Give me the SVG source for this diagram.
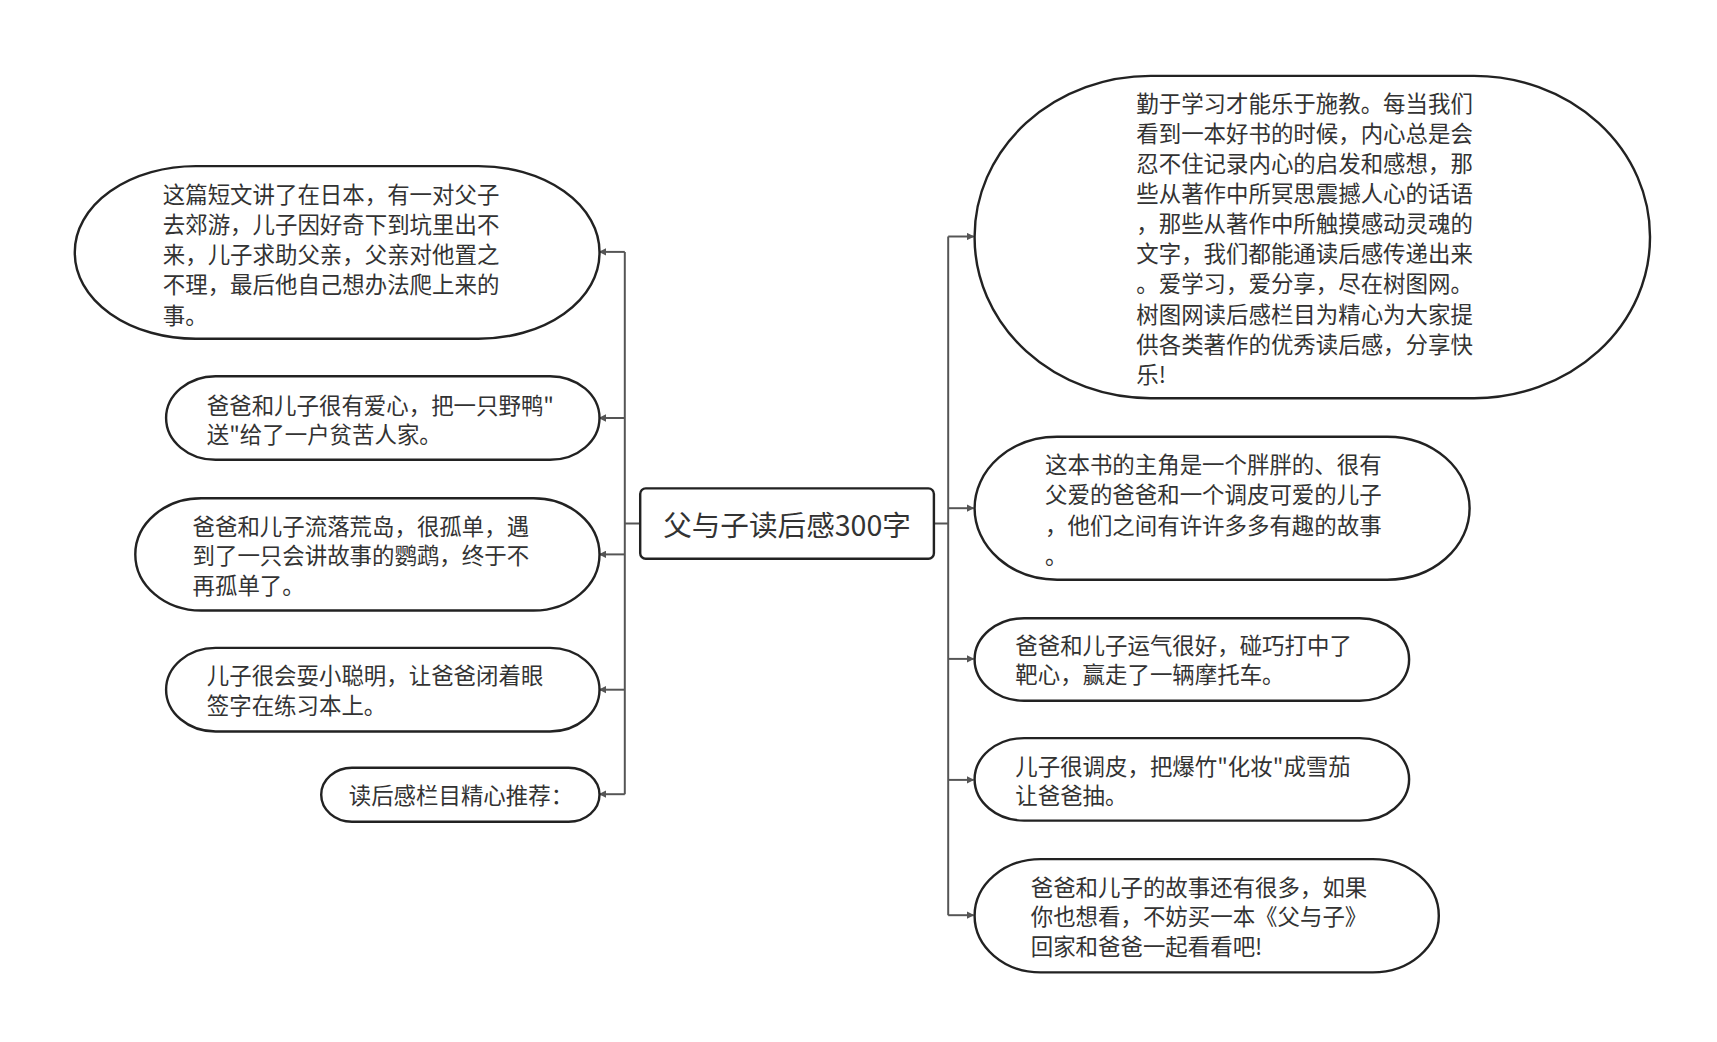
<svg xmlns="http://www.w3.org/2000/svg" width="1717" height="1042" viewBox="0 0 1717 1042">
<style>
.n{fill:#fff;stroke:#222;stroke-width:2.2}
.t{font-family:"Noto Sans CJK SC","Noto Sans",sans-serif;font-size:20.4px;fill:#333;dominant-baseline:central}
.c{fill:none;stroke:#555;stroke-width:1.8}
</style>
<defs><marker id="a" viewBox="0 0 10 10" refX="9" refY="5" markerWidth="7" markerHeight="7" orient="auto" markerUnits="userSpaceOnUse"><path d="M0,0L10,5L0,10z" fill="#555"/></marker></defs>
<rect width="1717" height="1042" fill="#fff"/>
<g transform="scale(1.1)">
<g id="connectors">
<path class="c" d="M582,476H568M568,229V722M849,476H862M862,215V832"/>
<path class="c" marker-end="url(#a)" d="M568,229H545"/>
<path class="c" marker-end="url(#a)" d="M568,380H545"/>
<path class="c" marker-end="url(#a)" d="M568,504H545"/>
<path class="c" marker-end="url(#a)" d="M568,627H545"/>
<path class="c" marker-end="url(#a)" d="M568,722H545"/>
<path class="c" marker-end="url(#a)" d="M862,215H885"/>
<path class="c" marker-end="url(#a)" d="M862,462H885"/>
<path class="c" marker-end="url(#a)" d="M862,599H885"/>
<path class="c" marker-end="url(#a)" d="M862,709H885"/>
<path class="c" marker-end="url(#a)" d="M862,832H885"/>
</g>
<g id="center"><rect class="n" x="582" y="444" width="267" height="64" rx="5"/><text class="t" x="715.5" y="476" text-anchor="middle" style="font-size:26px">父与子读后感300字</text></g>
<g id="l1"><rect class="n" x="68" y="151" width="477" height="157" rx="110" ry="78"/><text class="t" x="148"><tspan x="148" y="175">这篇短文讲了在日本，有一对父子</tspan><tspan x="148" y="202.5">去郊游，儿子因好奇下到坑里出不</tspan><tspan x="148" y="230">来，儿子求助父亲，父亲对他置之</tspan><tspan x="148" y="257.5">不理，最后他自己想办法爬上来的</tspan><tspan x="148" y="285">事。</tspan></text></g>
<g id="l2"><rect class="n" x="151" y="342" width="394" height="76" rx="45" ry="38"/><text class="t"><tspan x="188" y="367">爸爸和儿子很有爱心，把一只野鸭"</tspan><tspan x="188" y="394">送"给了一户贫苦人家。</tspan></text></g>
<g id="l3"><rect class="n" x="123" y="453" width="422" height="102" rx="60" ry="51"/><text class="t"><tspan x="175" y="477">爸爸和儿子流落荒岛，很孤单，遇</tspan><tspan x="175" y="504">到了一只会讲故事的鹦鹉，终于不</tspan><tspan x="175" y="531">再孤单了。</tspan></text></g>
<g id="l4"><rect class="n" x="151" y="589" width="394" height="76" rx="45" ry="38"/><text class="t"><tspan x="188" y="613">儿子很会耍小聪明，让爸爸闭着眼</tspan><tspan x="188" y="640">签字在练习本上。</tspan></text></g>
<g id="l5"><rect class="n" x="292" y="698" width="253" height="49" rx="28" ry="24.5"/><text class="t" x="317" y="722">读后感栏目精心推荐：</text></g>
<g id="r1"><rect class="n" x="886" y="69" width="614" height="293" rx="160" ry="146"/><text class="t"><tspan x="1033" y="93">勤于学习才能乐于施教。每当我们</tspan><tspan x="1033" y="120.3">看到一本好书的时候，内心总是会</tspan><tspan x="1033" y="147.6">忍不住记录内心的启发和感想，那</tspan><tspan x="1033" y="174.9">些从著作中所冥思震撼人心的话语</tspan><tspan x="1033" y="202.2">，那些从著作中所触摸感动灵魂的</tspan><tspan x="1033" y="229.5">文字，我们都能通读后感传递出来</tspan><tspan x="1033" y="256.8">。爱学习，爱分享，尽在树图网。</tspan><tspan x="1033" y="284.1">树图网读后感栏目为精心为大家提</tspan><tspan x="1033" y="311.4">供各类著作的优秀读后感，分享快</tspan><tspan x="1033" y="338.7">乐!</tspan></text></g>
<g id="r2"><rect class="n" x="886" y="397" width="450" height="130" rx="75" ry="65"/><text class="t"><tspan x="950" y="421">这本书的主角是一个胖胖的、很有</tspan><tspan x="950" y="448.5">父爱的爸爸和一个调皮可爱的儿子</tspan><tspan x="950" y="476">，他们之间有许许多多有趣的故事</tspan><tspan x="950" y="503.5">。</tspan></text></g>
<g id="r3"><rect class="n" x="886" y="562" width="395" height="75" rx="45" ry="37.5"/><text class="t"><tspan x="923" y="585">爸爸和儿子运气很好，碰巧打中了</tspan><tspan x="923" y="612">靶心，赢走了一辆摩托车。</tspan></text></g>
<g id="r4"><rect class="n" x="886" y="671" width="395" height="75" rx="45" ry="37.5"/><text class="t"><tspan x="923" y="695">儿子很调皮，把爆竹"化妆"成雪茄</tspan><tspan x="923" y="722">让爸爸抽。</tspan></text></g>
<g id="r5"><rect class="n" x="886" y="781" width="422" height="103" rx="60" ry="51.5"/><text class="t"><tspan x="937" y="805">爸爸和儿子的故事还有很多，如果</tspan><tspan x="937" y="832">你也想看，不妨买一本《父与子》</tspan><tspan x="937" y="859">回家和爸爸一起看看吧!</tspan></text></g>
</g>
</svg>
